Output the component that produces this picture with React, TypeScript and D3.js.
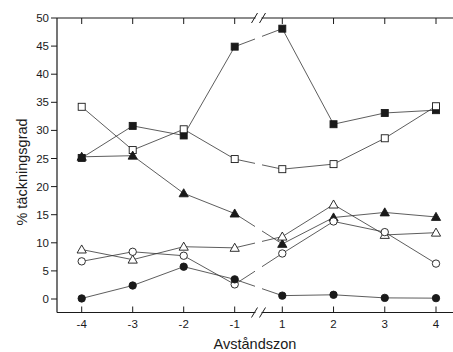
import React from 'react';
import { scaleLinear, line, range } from 'd3';

const zones = [-4, -3, -2, -1, 1, 2, 3, 4];
const yTicks = range(0, 55, 5);

const filledSquare = [25.1, 30.8, 29.1, 44.9, 48.1, 31.1, 33.1, 33.6];
const openSquare = [34.2, 26.5, 30.2, 24.9, 23.1, 24.0, 28.6, 34.3];
const filledTriangle = [25.3, 25.5, 18.8, 15.2, 9.8, 14.5, 15.4, 14.6];
const openTriangle = [8.8, 7.0, 9.3, 9.1, 11.1, 16.8, 11.4, 11.8];
const openCircle = [6.7, 8.4, 7.7, 2.6, 8.1, 13.8, 11.9, 6.3];
const filledCircle = [0.1, 2.4, 5.75, 3.5, 0.6, 0.75, 0.2, 0.15];

type Series = { values: number[]; shape: 'square' | 'triangle' | 'circle'; filled: boolean };

const series: Series[] = [
    { values: filledSquare, shape: 'square', filled: true },
    { values: openSquare, shape: 'square', filled: false },
    { values: filledTriangle, shape: 'triangle', filled: true },
    { values: openTriangle, shape: 'triangle', filled: false },
    { values: openCircle, shape: 'circle', filled: false },
    { values: filledCircle, shape: 'circle', filled: true }
];

const width = 453;
const height = 352;
const left = 57;
const top = 18;
const bottom = 312.5;
const ink = '#1a1a1a';
const font = '"Liberation Sans", Arial, sans-serif';

// broken axis: the -1..1 step is a little narrower than the others
const x = scaleLinear().domain([-4, -1, 1, 4]).range([81.7, 234.7, 282.3, 436]);
const y = scaleLinear().domain([0, 50]).range([299, 18]);

// x position of the axis break, and the gap left in lines that cross it
const breakX = (x(-1) + x(1)) / 2;
const gapHalf = 3.5;

const Marker = ({ cx, cy, shape, filled }: { cx: number; cy: number; shape: string; filled: boolean }) => {
    const fill = filled ? ink : '#fff';
    if (shape === 'square') {
        return <rect x={cx - 3.5} y={cy - 3.5} width={7} height={7} fill={fill} stroke={ink} strokeWidth={0.9} />;
    }
    if (shape === 'triangle') {
        const r = 4.6;
        return (
            <path
                d={`M${cx},${cy - r}L${cx + r},${cy + r * 0.75}L${cx - r},${cy + r * 0.75}Z`}
                fill={fill}
                stroke={ink}
                strokeWidth={0.9}
            />
        );
    }
    return <circle cx={cx} cy={cy} r={3.7} fill={fill} stroke={ink} strokeWidth={0.9} />;
};

const segments = (values: number[]) => {
    const pts: [number, number][] = values.map((v, i) => [x(zones[i]), y(v)]);
    const i0 = zones.indexOf(-1);
    const [xa, ya] = pts[i0];
    const [xb, yb] = pts[i0 + 1];
    const at = (px: number): [number, number] => [px, ya + ((yb - ya) * (px - xa)) / (xb - xa)];
    const gen = line();
    return [
        gen([...pts.slice(0, i0 + 1), at(breakX - gapHalf)]),
        gen([at(breakX + gapHalf), ...pts.slice(i0 + 1)])
    ];
};

const BreakMark = ({ cy }: { cy: number }) => (
    <g stroke={ink} strokeWidth={1}>
        <rect x={breakX - 3} y={cy - 2} width={6} height={4} fill="#fff" stroke="none" />
        <line x1={breakX - 7} y1={cy + 5} x2={breakX - 1} y2={cy - 5} />
        <line x1={breakX + 1} y1={cy + 5} x2={breakX + 7} y2={cy - 5} />
    </g>
);

const App = () => (
    <svg
        width={width}
        height={height}
        style={{ position: 'absolute', left: 0, top: 0, background: '#fff' }}
        fontFamily={font}
    >
        {/* frame: left, top and bottom axes */}
        <g stroke={ink} strokeWidth={1.2} fill="none">
            <line x1={left} y1={top} x2={left} y2={bottom} />
            <line x1={left} y1={top} x2={width} y2={top} />
            <line x1={left} y1={bottom} x2={width} y2={bottom} />
        </g>

        {/* y ticks */}
        {yTicks.map((t) => (
            <g key={t}>
                <line x1={left - 6} x2={left} y1={y(t)} y2={y(t)} stroke={ink} strokeWidth={1} />
                <text x={left - 8} y={y(t)} dy="0.35em" textAnchor="end" fontSize={11.5} fill={ink}>
                    {t}
                </text>
            </g>
        ))}

        {/* x ticks on bottom and top */}
        {zones.map((z) => (
            <g key={z}>
                <line x1={x(z)} x2={x(z)} y1={bottom} y2={bottom - 6} stroke={ink} strokeWidth={1} />
                <line x1={x(z)} x2={x(z)} y1={top} y2={top + 6} stroke={ink} strokeWidth={1} />
                <text x={x(z)} y={328} textAnchor="middle" fontSize={11.5} fill={ink}>
                    {z}
                </text>
            </g>
        ))}

        <BreakMark cy={top} />
        <BreakMark cy={bottom} />

        {/* series lines */}
        {series.map((s, i) =>
            segments(s.values).map((d, j) => (
                <path key={`${i}-${j}`} d={d!} fill="none" stroke="#333" strokeWidth={0.8} />
            ))
        )}

        {/* markers */}
        {series.map((s, i) =>
            s.values.map((v, j) => (
                <Marker key={`${i}-${j}`} cx={x(zones[j])} cy={y(v)} shape={s.shape} filled={s.filled} />
            ))
        )}

        <text x={255} y={349} textAnchor="middle" fontSize={14.5} fill={ink}>
            Avståndszon
        </text>
        <text transform="translate(27,172) rotate(-90)" textAnchor="middle" fontSize={14.5} fill={ink}>
            % täckningsgrad
        </text>
    </svg>
);

export default App;
